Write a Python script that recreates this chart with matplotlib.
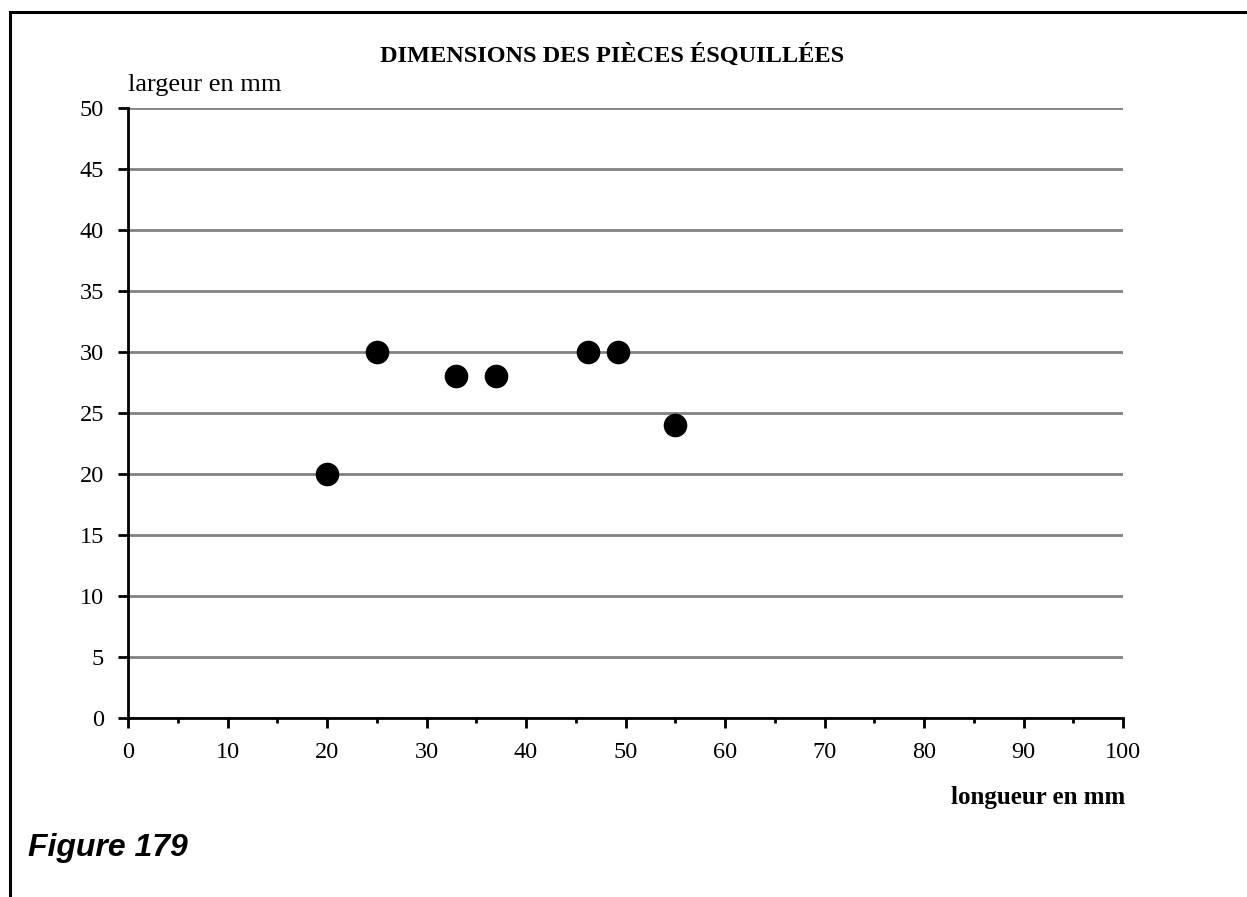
import matplotlib
matplotlib.use("Agg")
import matplotlib.pyplot as plt
from matplotlib.ticker import MultipleLocator
from matplotlib.lines import Line2D

longueur = [20, 25, 33, 37, 46.2, 49.2, 55]
largeur = [20, 30, 28, 28, 30, 30, 24]

title = "DIMENSIONS DES PIÈCES ÉSQUILLÉES"
xlabel = "longueur en mm"
ylabel = "largeur en mm"
fig_label = "Figure 179"

serif = ["Liberation Serif", "DejaVu Serif"]

fig = plt.figure(figsize=(12.47, 8.97), dpi=100)
ax = fig.add_axes([128/1247, 1-718/897, (1123-128)/1247, (718-108)/897])

ax.scatter(longueur, largeur, s=17**2, color="black", zorder=3, linewidths=0)

ax.set_xlim(0, 100)
ax.set_ylim(0, 50)
ax.xaxis.set_major_locator(MultipleLocator(10))
ax.xaxis.set_minor_locator(MultipleLocator(5))
ax.yaxis.set_major_locator(MultipleLocator(5))

ax.grid(axis="y", color="#828282", linewidth=2.0, zorder=1)
ax.set_axisbelow(True)
for s in ["top", "right"]:
    ax.spines[s].set_visible(False)
for s in ["left", "bottom"]:
    ax.spines[s].set_linewidth(2.0)
    ax.spines[s].set_zorder(2)

ax.tick_params(axis="both", which="major", direction="out", length=7.2, width=2.0, color="black")
ax.tick_params(axis="x", which="minor", direction="out", length=3.6, width=2.0)
ax.tick_params(axis="y", which="major", pad=10)
ax.tick_params(axis="x", which="major", pad=10)
for lab in ax.get_xticklabels() + ax.get_yticklabels():
    lab.set_fontfamily(serif)
    lab.set_fontsize(17.5)

fig.text(612/1247, 1-55/897, title, ha="center", va="center",
         fontsize=17.5, fontweight="bold", family=serif)
fig.text(128/1247, 1-85/897, ylabel, ha="left", va="center",
         fontsize=19, family=serif)
fig.text(1125/1247, 1-797/897, xlabel, ha="right", va="center",
         fontsize=18, fontweight="bold", family=serif)
fig.text(28/1247, 1-848/897, fig_label, ha="left", va="center",
         fontsize=23, fontweight="bold", fontstyle="italic", family=["Liberation Sans", "DejaVu Sans"])

# page frame: top and left lines
fig.add_artist(Line2D([10/1247, 1], [1-12/897, 1-12/897], color="black", linewidth=2.2, transform=fig.transFigure))
fig.add_artist(Line2D([10/1247, 10/1247], [0, 1-12/897], color="black", linewidth=2.2, transform=fig.transFigure))

fig.savefig("out.png", dpi=100, facecolor="white")
